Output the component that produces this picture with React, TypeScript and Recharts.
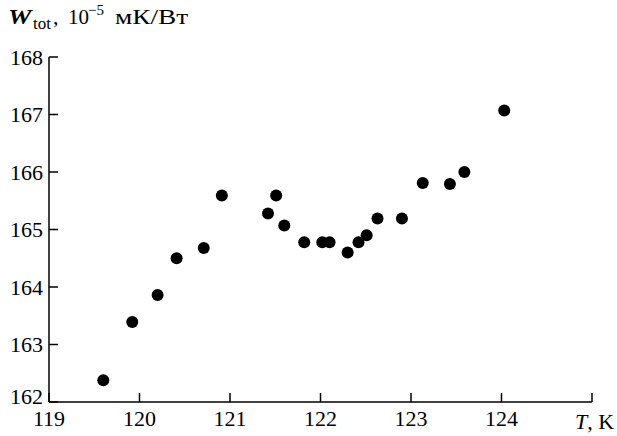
import React from 'react';
import { ScatterChart, Scatter, XAxis, YAxis } from 'recharts';

// temperature, K
const temperature = [
    119.6, 119.92, 120.2, 120.41, 120.71, 120.91, 121.42, 121.51, 121.6, 121.82,
    122.02, 122.1, 122.3, 122.42, 122.51, 122.63, 122.9, 123.13, 123.43, 123.59, 124.03
];
// total thermal resistance, 10^-5 mK/W
const wTot = [
    162.38, 163.39, 163.86, 164.5, 164.68, 165.59, 165.28, 165.59, 165.07, 164.78,
    164.78, 164.78, 164.6, 164.78, 164.9, 165.19, 165.19, 165.81, 165.79, 166.0, 167.07
];
const xTicks = [119, 120, 121, 122, 123, 124, 125];
const yTicks = [162, 163, 164, 165, 166, 167, 168];

const data = temperature.map((t, i) => ({ t, w: wTot[i] }));

const font = '"Liberation Serif", "Times New Roman", serif';
const tickStyle = { fontFamily: font, fontSize: 22, fill: '#000' };

const Dot = (props: any) => <circle cx={props.cx} cy={props.cy} r={6} fill="#000" />;

// the lowest label sits a little higher so it clears the x-axis labels
const YTick = (props: any) => {
    const { x, y, payload } = props;
    const shift = payload.value === 162 ? -6 : 0;
    return (
        <text x={x} y={y + shift} dy="0.355em" textAnchor="end" fontFamily={font} fontSize={22} fill="#000">
            {payload.value}
        </text>
    );
};

const App: React.FC = () => {
    return (
        <div style={{ position: 'absolute', left: 0, top: 0, width: 617, height: 436, background: '#fff' }}>
            <ScatterChart width={617} height={436} margin={{ top: 57, right: 25, left: 0, bottom: 0 }}>
                <XAxis
                    type="number"
                    dataKey="t"
                    domain={[119, 125]}
                    ticks={xTicks}
                    tickFormatter={(v: number) => (v === 125 ? '' : String(v))}
                    height={34}
                    stroke="#000"
                    strokeWidth={1.5}
                    tickSize={-9}
                    tickMargin={17}
                    tick={tickStyle}
                    allowDataOverflow
                />
                <YAxis
                    type="number"
                    dataKey="w"
                    domain={[162, 168]}
                    ticks={yTicks}
                    width={49}
                    stroke="#000"
                    strokeWidth={1.5}
                    tickSize={-9}
                    tickMargin={15}
                    tick={<YTick />}
                    allowDataOverflow
                />
                <Scatter data={data} shape={Dot} isAnimationActive={false} />
            </ScatterChart>
            <svg width={617} height={436} style={{ position: 'absolute', left: 0, top: 0, pointerEvents: 'none' }}>
                <g fontFamily={font} fill="#000">
                    <text transform="translate(8,24) scale(1.2,1)" fontSize={22} fontStyle="italic" fontWeight="bold">W</text>
                    <text x={33} y={29} fontSize={17}>tot</text>
                    <text x={53} y={24} fontSize={22}>,</text>
                    <text x={68} y={24} fontSize={21}>10</text>
                    <text x={88} y={15} fontSize={15}>−5</text>
                    <text transform="translate(115,24) scale(1.3,1)" fontSize={21}>мК/Вт</text>
                    <text x={575} y={429} fontSize={22}>
                        <tspan fontStyle="italic">T</tspan>, K
                    </text>
                </g>
            </svg>
        </div>
    );
};

export default App;
